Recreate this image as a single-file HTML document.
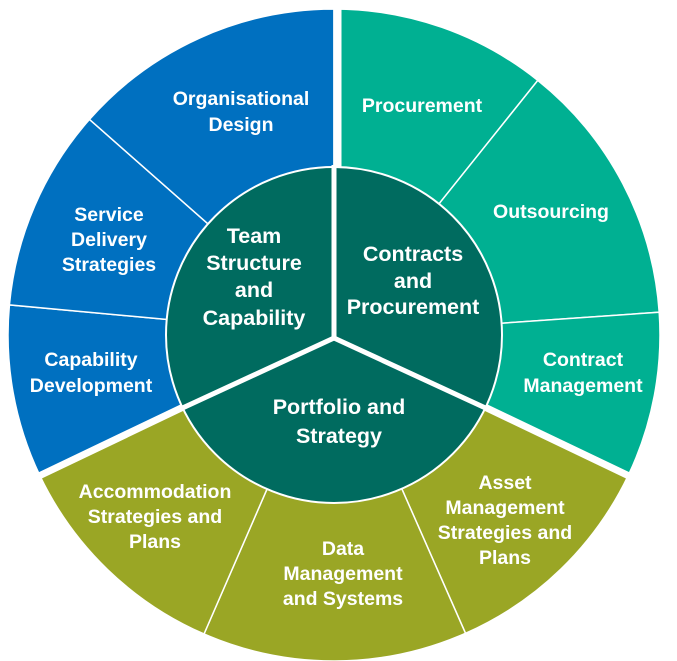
<!DOCTYPE html>
<html><head><style>
html,body{margin:0;padding:0;background:#fff;}
svg{display:block;}
text{font-family:"Liberation Sans",Arial,sans-serif;font-weight:bold;fill:#fff;text-anchor:middle;}
.o{font-size:19.5px;}
.i{font-size:21.5px;}
</style></head><body>
<svg width="677" height="661" viewBox="0 0 677 661">
<g stroke="#fff" stroke-width="1.5">
<path d="M334,335 L39.7,475.3 A326,326 0 0 1 9.4,304.9 Z" fill="#0070C0"/>
<path d="M334,335 L9.4,304.9 A326,326 0 0 1 89.5,119.4 Z" fill="#0070C0"/>
<path d="M334,335 L89.5,119.4 A326,326 0 0 1 334,9 Z" fill="#0070C0"/>
<path d="M334,335 L334,9 A326,326 0 0 1 537.8,80.4 Z" fill="#00B092"/>
<path d="M334,335 L537.8,80.4 A326,326 0 0 1 659.2,312.2 Z" fill="#00B092"/>
<path d="M334,335 L659.2,312.2 A326,326 0 0 1 628.3,475.3 Z" fill="#00B092"/>
<path d="M334,335 L628.3,475.3 A326,326 0 0 1 465.5,633.3 Z" fill="#9AA625"/>
<path d="M334,335 L465.5,633.3 A326,326 0 0 1 204,634 Z" fill="#9AA625"/>
<path d="M334,335 L204,634 A326,326 0 0 1 39.7,475.3 Z" fill="#9AA625"/>
</g>
<g stroke="#fff" stroke-width="7">
<line x1="338" y1="335" x2="338" y2="0"/>
<line x1="334" y1="335" x2="650" y2="486"/>
<line x1="334" y1="335" x2="18" y2="486"/>
</g>
<circle cx="334" cy="335" r="168" fill="#006B5F" stroke="#fff" stroke-width="2"/>
<g stroke="#fff" stroke-width="5">
<line x1="334" y1="338" x2="334" y2="165"/>
<line x1="334" y1="338" x2="492" y2="411"/>
<line x1="334" y1="338" x2="176" y2="411"/>
</g>
<text class="o" x="241" y="105">Organisational</text>
<text class="o" x="241" y="131">Design</text>
<text class="o" x="109" y="221">Service</text>
<text class="o" x="109" y="246">Delivery</text>
<text class="o" x="109" y="271">Strategies</text>
<text class="o" x="91" y="366">Capability</text>
<text class="o" x="91" y="392">Development</text>
<text class="o" x="422" y="112">Procurement</text>
<text class="o" x="551" y="218">Outsourcing</text>
<text class="o" x="583" y="366">Contract</text>
<text class="o" x="583" y="392">Management</text>
<text class="o" x="155" y="498">Accommodation</text>
<text class="o" x="155" y="523">Strategies and</text>
<text class="o" x="155" y="548">Plans</text>
<text class="o" x="343" y="555">Data</text>
<text class="o" x="343" y="580">Management</text>
<text class="o" x="343" y="605">and Systems</text>
<text class="o" x="505" y="489">Asset</text>
<text class="o" x="505" y="514">Management</text>
<text class="o" x="505" y="539">Strategies and</text>
<text class="o" x="505" y="564">Plans</text>
<text class="i" x="254" y="243">Team</text>
<text class="i" x="254" y="270">Structure</text>
<text class="i" x="254" y="297">and</text>
<text class="i" x="254" y="325">Capability</text>
<text class="i" x="413" y="261">Contracts</text>
<text class="i" x="413" y="288">and</text>
<text class="i" x="413" y="314">Procurement</text>
<text class="i" x="339" y="414">Portfolio and</text>
<text class="i" x="339" y="443">Strategy</text>
</svg>
</body></html>
